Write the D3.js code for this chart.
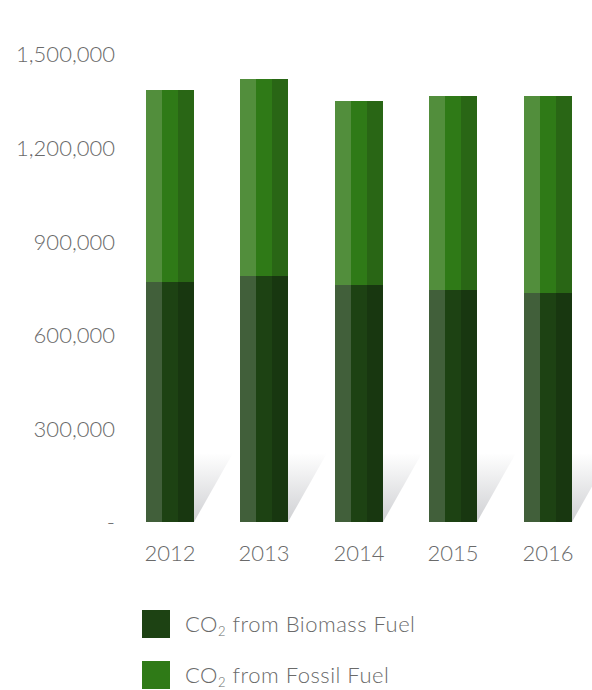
<!DOCTYPE html>
<html>
<head>
<meta charset="utf-8">
<script src="https://cdn.jsdelivr.net/npm/d3@7"></script>
<style>
  html, body { margin: 0; padding: 0; background: #fff; }
  svg { display: block; font-family: Lato, "Open Sans", "DejaVu Sans", sans-serif; font-weight: 300; }
  .tick text, .year, .legend-label { fill: #6a6a6a; font-size: 22px; }
  .legend-label { letter-spacing: 0.5px; }
</style>
</head>
<body>
<svg id="chart" width="592" height="690"></svg>
<script>
// CO2 emissions by fuel source (tonnes)
const years = ["2012", "2013", "2014", "2015", "2016"];
const biomass = [770000, 788000, 760000, 744000, 735000];
const fossil = [615000, 632000, 589000, 621000, 630000];
const yTicks = [0, 300000, 600000, 900000, 1200000, 1500000];
const seriesNames = ["from Biomass Fuel", "from Fossil Fuel"];

// three-tone shading per bar: light left, main middle, dark right
const biomassShades = ["#415f3a", "#1d4213", "#183710"];
const fossilShades = ["#528e3c", "#2f7a17", "#296615"];
const legendColors = ["#1d4213", "#2f7a17"];

const svg = d3.select("#chart");

const x = d3.scaleBand()
  .domain(years)
  .range([98.75, 619.25])
  .paddingInner(0.492)
  .paddingOuter(0.5);

const y = d3.scaleLinear()
  .domain([0, 1500000])
  .range([522, 54]);

// floor shadow gradient
const defs = svg.append("defs");
const grad = defs.append("linearGradient")
  .attr("id", "shadowGrad")
  .attr("x1", 0).attr("y1", 0).attr("x2", 0).attr("y2", 1);
grad.append("stop").attr("offset", "0%").attr("stop-color", "#ffffff");
grad.append("stop").attr("offset", "100%").attr("stop-color", "#cfd0d3");

const bw = Math.round(x.bandwidth());
const stripe = bw / 3;
const bx = d => Math.round(x(d));

// shadows cast to the right of each bar
svg.append("g").selectAll("path")
  .data(years)
  .join("path")
  .attr("fill", "url(#shadowGrad)")
  .attr("d", d => {
    const x0 = bx(d) + bw;
    const yb = y(0);
    const yt = yb - 69;
    return `M${x0},${yt} L${x0 + 39},${yt} L${x0},${yb} Z`;
  });

// stacked bars
const stacks = years.map((yr, i) => ({
  year: yr,
  segs: [
    { y0: 0, y1: biomass[i], shades: biomassShades },
    { y0: biomass[i], y1: biomass[i] + fossil[i], shades: fossilShades }
  ]
}));

const barG = svg.append("g")
  .attr("shape-rendering", "crispEdges")
  .selectAll("g")
  .data(stacks)
  .join("g")
  .attr("transform", d => `translate(${bx(d.year)},0)`);

barG.selectAll("g.seg")
  .data(d => d.segs)
  .join("g")
  .attr("class", "seg")
  .each(function(s) {
    d3.select(this).selectAll("rect")
      .data(s.shades)
      .join("rect")
      .attr("x", (c, j) => j * stripe)
      .attr("width", stripe)
      .attr("y", y(s.y1))
      .attr("height", y(s.y0) - y(s.y1))
      .attr("fill", c => c);
  });

// y axis
const yAxis = d3.axisLeft(y)
  .tickValues(yTicks)
  .tickSize(0)
  .tickPadding(0)
  .tickFormat(v => v === 0 ? "-" : d3.format(",")(v));

const yG = svg.append("g")
  .attr("transform", "translate(115,0)")
  .call(yAxis)
  .attr("font-size", null)
  .attr("font-family", null);
yG.select(".domain").remove();
yG.selectAll("text").attr("dy", "0.36em");

// year labels
svg.append("g").selectAll("text")
  .data(years)
  .join("text")
  .attr("class", "year")
  .attr("x", d => bx(d) + bw / 2)
  .attr("y", 561)
  .attr("text-anchor", "middle")
  .text(d => d);

// legend
const legend = svg.append("g").selectAll("g")
  .data(seriesNames)
  .join("g")
  .attr("transform", (d, i) => `translate(142,${610 + i * 51})`);

legend.append("rect")
  .attr("width", 28)
  .attr("height", 28)
  .attr("fill", (d, i) => legendColors[i]);

const lt = legend.append("text")
  .attr("class", "legend-label")
  .attr("x", 43)
  .attr("y", 22);
lt.append("tspan").text("CO");
lt.append("tspan").attr("font-size", "13px").attr("dy", "4").text("2");
lt.append("tspan").attr("dy", "-4").text(d => " " + d);
</script>
</body>
</html>
